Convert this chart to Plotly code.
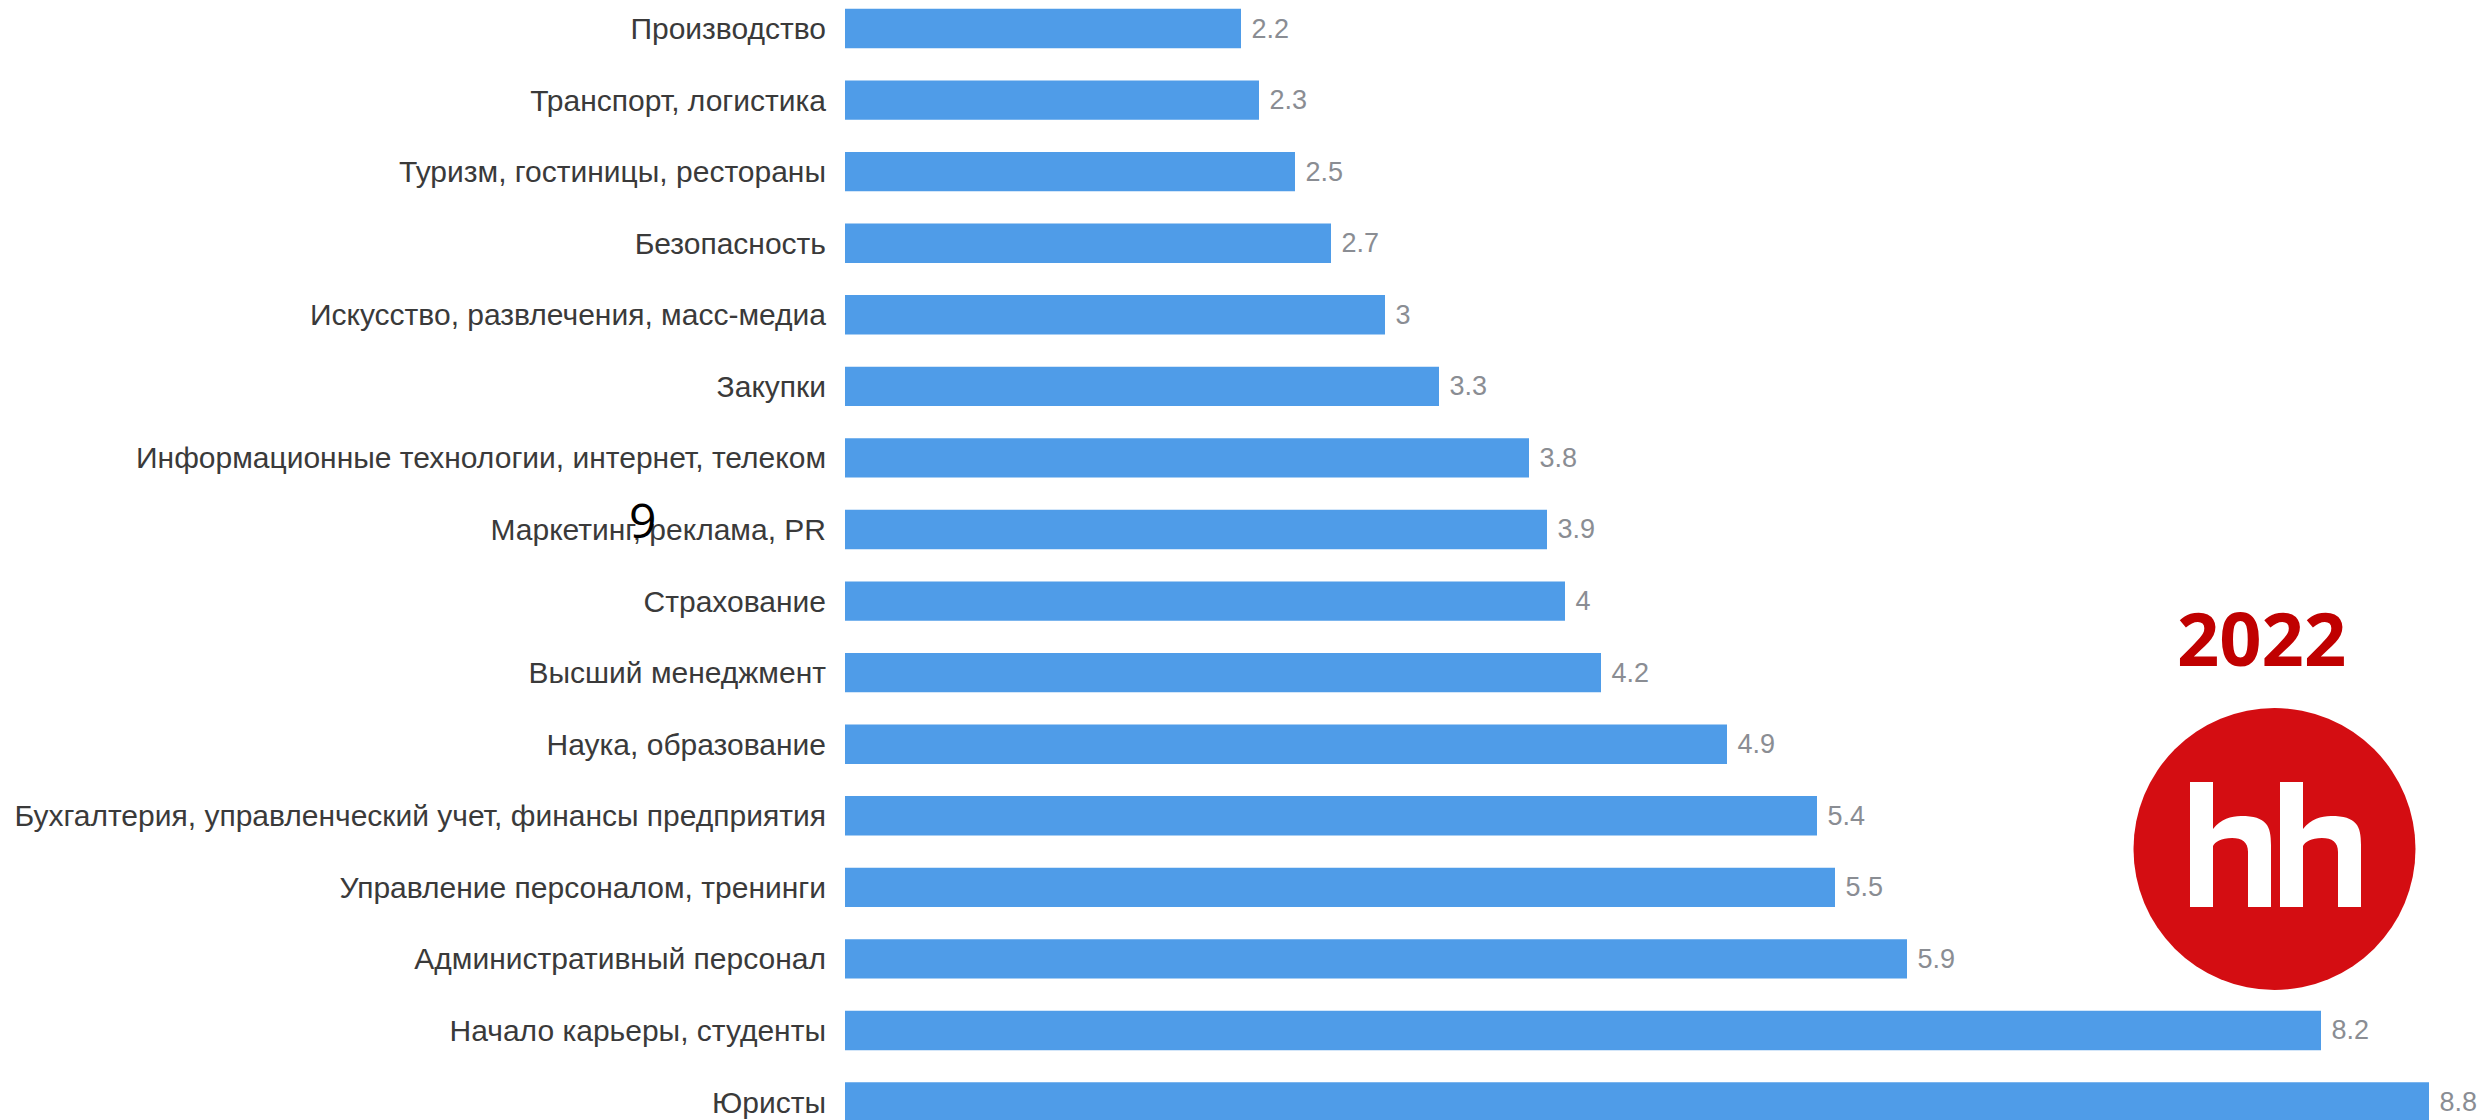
import plotly.graph_objects as go

categories = [
    "Производство",
    "Транспорт, логистика",
    "Туризм, гостиницы, рестораны",
    "Безопасность",
    "Искусство, развлечения, масс-медиа",
    "Закупки",
    "Информационные технологии, интернет, телеком",
    "Маркетинг, реклама, PR",
    "Страхование",
    "Высший менеджмент",
    "Наука, образование",
    "Бухгалтерия, управленческий учет, финансы предприятия",
    "Управление персоналом, тренинги",
    "Административный персонал",
    "Начало карьеры, студенты",
    "Юристы",
]
values = [2.2, 2.3, 2.5, 2.7, 3, 3.3, 3.8, 3.9, 4, 4.2, 4.9, 5.4, 5.5, 5.9, 8.2, 8.8]

year_label = "2022"
stray_text = "9"

W, H = 2486, 1120
ML = 845
PX_PER_UNIT = 180.0


def X(px):
    return (px - ML) / (W - ML)


def Y(py):
    return 1 - py / H


fig = go.Figure(
    go.Bar(
        y=categories,
        x=values,
        orientation="h",
        width=0.55,
        marker=dict(color="#4f9ce8", line=dict(width=0)),
        texttemplate=" %{x}",
        textposition="outside",
        textfont=dict(family="Liberation Sans, Arial", size=27, color="#8a8d93"),
        cliponaxis=False,
        hoverinfo="skip",
    )
)


def h_path(x0):
    s = 23
    w = 81
    T, B = 782, 907
    pts = [
        ("M", [(x0, B)]),
        ("L", [(x0, T)]),
        ("L", [(x0 + s, T)]),
        ("L", [(x0 + s, 829)]),
        ("C", [(x0 + s + 8, 819), (x0 + s + 18, 816), (x0 + s + 28, 816)]),
        ("C", [(x0 + w - 4, 816), (x0 + w, 826), (x0 + w, 845)]),
        ("L", [(x0 + w, B)]),
        ("L", [(x0 + w - s, B)]),
        ("L", [(x0 + w - s, 852)]),
        ("C", [(x0 + w - s, 842), (x0 + w - s - 6, 838), (x0 + w - s - 16, 838)]),
        ("C", [(x0 + s + 8, 838), (x0 + s + 2, 842), (x0 + s, 846)]),
        ("L", [(x0 + s, B)]),
    ]
    out = ""
    for cmd, ps in pts:
        out += cmd + " " + " ".join(f"{X(px):.5f},{Y(py):.5f}" for px, py in ps) + " "
    return out + "Z"


shapes = [
    dict(
        type="circle", xref="paper", yref="paper",
        x0=X(2133.5), x1=X(2415.5), y0=Y(990), y1=Y(708),
        fillcolor="#d40d12", line=dict(width=0), layer="above",
    ),
    dict(type="path", xref="paper", yref="paper", path=h_path(2190),
         fillcolor="white", line=dict(width=0), layer="above"),
    dict(type="path", xref="paper", yref="paper", path=h_path(2280),
         fillcolor="white", line=dict(width=0), layer="above"),
]

annotations = [
    dict(
        text=f"<b>{year_label}</b>", xref="paper", yref="paper",
        x=X(2261), y=Y(637), xanchor="center", yanchor="middle",
        showarrow=False,
        font=dict(family="Open Sans", size=74, color="#c00000"),
    ),
    dict(
        text=stray_text, xref="paper", yref="paper",
        x=X(642), y=Y(519), xanchor="center", yanchor="middle",
        showarrow=False,
        font=dict(family="Open Sans", size=48, color="#000000"),
    ),
]

top_center = 28.5
spacing = 71.57
r_top = -top_center / spacing
r_bot = r_top + H / spacing

fig.update_layout(
    width=W,
    height=H,
    margin=dict(l=ML, r=0, t=0, b=0, pad=0),
    paper_bgcolor="white",
    plot_bgcolor="white",
    showlegend=False,
    shapes=shapes,
    annotations=annotations,
    xaxis=dict(
        range=[0, (W - ML) / PX_PER_UNIT],
        visible=False,
        showgrid=False,
        zeroline=False,
    ),
    yaxis=dict(
        categoryorder="array",
        categoryarray=categories,
        range=[r_bot, r_top],
        showgrid=False,
        zeroline=False,
        showline=False,
        ticks="",
        ticklabelstandoff=18,
        tickfont=dict(family="Liberation Sans, Arial", size=30, color="#3a3a3a"),
        automargin=False,
    ),
)

fig.write_html(
    "out.html",
    config={"displayModeBar": False},
    post_script="document.body.style.margin='0';document.body.style.overflow='hidden';",
)
